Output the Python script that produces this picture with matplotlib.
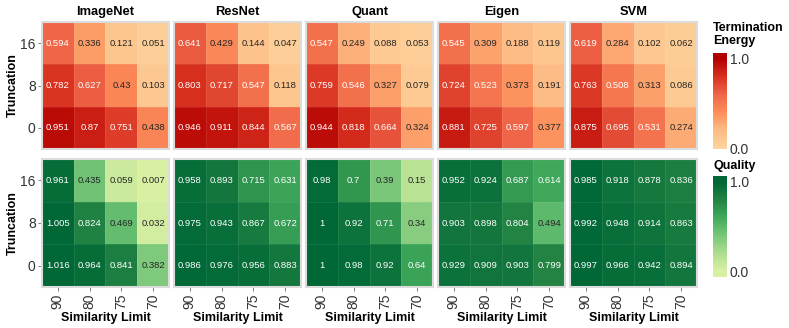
import numpy as np
import matplotlib
matplotlib.use("Agg")
from matplotlib import pyplot as plt
from matplotlib.colors import ListedColormap

plt.rcParams['font.family'] = ['Liberation Sans', 'DejaVu Sans']

# panel names, axis categories
models = ['ImageNet', 'ResNet', 'Quant', 'Eigen', 'SVM']
truncation = ['16', '8', '0']          # rows, top to bottom
similarity = ['90', '80', '75', '70']  # columns

# termination energy, rows = truncation 16, 8, 0
energy_imagenet = [[0.594, 0.336, 0.121, 0.051], [0.782, 0.627, 0.43, 0.103], [0.951, 0.87, 0.751, 0.438]]
energy_resnet = [[0.641, 0.429, 0.144, 0.047], [0.803, 0.717, 0.547, 0.118], [0.946, 0.911, 0.844, 0.567]]
energy_quant = [[0.547, 0.249, 0.088, 0.053], [0.759, 0.546, 0.327, 0.079], [0.944, 0.818, 0.664, 0.324]]
energy_eigen = [[0.545, 0.309, 0.188, 0.119], [0.724, 0.523, 0.373, 0.191], [0.881, 0.725, 0.597, 0.377]]
energy_svm = [[0.619, 0.284, 0.102, 0.062], [0.763, 0.508, 0.313, 0.086], [0.875, 0.695, 0.531, 0.274]]

# quality
quality_imagenet = [[0.961, 0.435, 0.059, 0.007], [1.005, 0.824, 0.469, 0.032], [1.016, 0.964, 0.841, 0.382]]
quality_resnet = [[0.958, 0.893, 0.715, 0.631], [0.975, 0.943, 0.867, 0.672], [0.986, 0.976, 0.956, 0.883]]
quality_quant = [[0.98, 0.7, 0.39, 0.15], [1, 0.92, 0.71, 0.34], [1, 0.98, 0.92, 0.64]]
quality_eigen = [[0.952, 0.924, 0.687, 0.614], [0.903, 0.898, 0.804, 0.494], [0.929, 0.909, 0.903, 0.799]]
quality_svm = [[0.985, 0.918, 0.878, 0.836], [0.992, 0.948, 0.914, 0.863], [0.997, 0.966, 0.942, 0.894]]

energy = [energy_imagenet, energy_resnet, energy_quant, energy_eigen, energy_svm]
quality = [quality_imagenet, quality_resnet, quality_quant, quality_eigen, quality_svm]


def sub_cmap(name, lo, hi):
    base = plt.get_cmap(name)
    return ListedColormap(base(np.linspace(lo, hi, 256)))


red_cmap = sub_cmap('OrRd', 0.25, 0.875)
green_cmap = sub_cmap('YlGn', 0.25, 0.875)

W, H = 789, 328
fig = plt.figure(figsize=(W / 100, H / 100), dpi=100)


def px_axes(x0, y0, x1, y1):
    return fig.add_axes([x0 / W, 1 - y1 / H, (x1 - x0) / W, (y1 - y0) / H])


panel_x = [42, 174, 306, 438, 570]
panel_w = 127
rows_y = [(22, 149), (159, 287)]
tick_col = '#333333'
border_col = '#dcdcdc'

for r, (block, cmap) in enumerate([(energy, red_cmap), (quality, green_cmap)]):
    y0, y1 = rows_y[r]
    for i, name in enumerate(models):
        ax = px_axes(panel_x[i], y0, panel_x[i] + panel_w, y1)
        data = np.array(block[i], dtype=float)
        ax.pcolormesh(np.arange(5) - 0.5, np.arange(4) - 0.5, data, cmap=cmap,
                      vmin=0, vmax=1, edgecolor=(1, 1, 1, 0.08), linewidth=0.4)
        ax.set_xlim(-0.5, 3.5)
        ax.set_ylim(2.5, -0.5)
        for yi in range(3):
            for xi in range(4):
                v = data[yi, xi]
                ax.text(xi, yi, f'{v:g}', ha='center', va='center', fontsize=6.8,
                        color='white' if v > 0.5 else '#262626')
        for s in ax.spines.values():
            s.set_color(border_col)
            s.set_linewidth(1.5)
        ax.tick_params(length=3, color='#666666', width=0.6, labelsize=10,
                       labelcolor=tick_col, pad=1.5)
        if i == 0:
            ax.set_yticks(range(3))
            ax.set_yticklabels(truncation)
            ax.set_ylabel('Truncation', fontsize=9, fontweight='bold', labelpad=1)
        else:
            ax.set_yticks([])
        if r == 1:
            ax.set_xticks(range(4))
            ax.set_xticklabels(similarity, rotation=90)
            ax.set_xlabel('Similarity Limit', fontsize=9, fontweight='bold', labelpad=2)
        else:
            ax.set_xticks([])
            ax.set_title(name, fontsize=9.3, fontweight='bold', pad=5)

# colour legends
legends = [(red_cmap, 53, 149, -0.01, 1.067, 'Termination\nEnergy', 22),
           (green_cmap, 176, 277, -0.067, 1.067, 'Quality', 160)]
for cmap, y0, y1, lo, hi, title, ty in legends:
    cax = px_axes(713, y0, 727, y1)
    grad = np.linspace(hi, lo, 200).reshape(-1, 1)
    cax.imshow(np.clip(grad, 0, 1), cmap=cmap, vmin=0, vmax=1, aspect='auto',
               extent=(0, 1, lo, hi))
    cax.set_xticks([])
    cax.yaxis.tick_right()
    cax.set_yticks([0, 1])
    cax.set_yticklabels(['0.0', '1.0'])
    cax.tick_params(length=0, pad=2, labelsize=10, labelcolor=tick_col)
    for s in cax.spines.values():
        s.set_visible(False)
    fig.text(713 / W, 1 - ty / H, title, ha='left', va='top', fontsize=9,
             fontweight='bold', linespacing=1.15)

fig.savefig('out.png', dpi=100)
